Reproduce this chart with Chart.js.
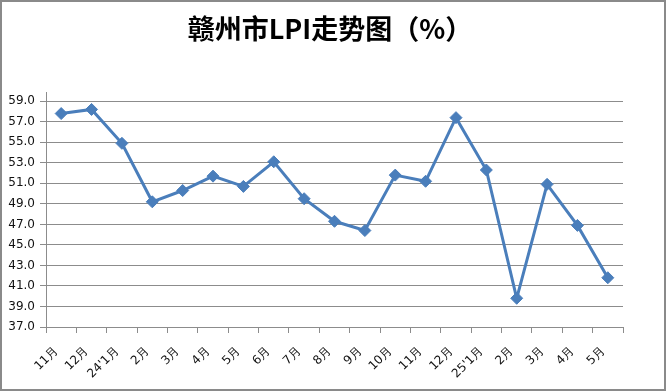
<!DOCTYPE html>
<html>
<head>
<meta charset="utf-8">
<script src="https://cdn.jsdelivr.net/npm/chart.js"></script>
<style>
  html, body { margin: 0; padding: 0; background: #fff; }
  #wrap { width: 666px; height: 391px; position: relative; }
</style>
</head>
<body>
<div id="wrap"><canvas id="c" width="666" height="391"></canvas></div>
<script>
// 赣州市LPI走势图 — monthly values
const months = ['11月', '12月', "24'1月", '2月', '3月', '4月', '5月', '6月', '7月', '8月',
  '9月', '10月', '11月', '12月', "25'1月", '2月', '3月', '4月', '5月'];
const lpi = [57.8, 58.2, 54.9, 49.2, 50.3, 51.7, 50.7, 53.1, 49.5, 47.3,
  46.4, 51.8, 51.2, 57.4, 52.3, 39.8, 50.9, 46.9, 41.8];
const yTicks = [37, 39, 41, 43, 45, 47, 49, 51, 53, 55, 57, 59];
const titleText = '赣州市LPI走势图（%）';

const gridGrey = '#8c8c8c';
const lineBlue = '#4a7ebb';

// grey frame round the whole picture, and the title (a bit right of the plot centre)
const framePlugin = {
  id: 'frame',
  afterDraw(chart) {
    const ctx = chart.ctx;
    ctx.save();
    ctx.strokeStyle = '#8a8a8a';
    ctx.lineWidth = 2;
    ctx.strokeRect(1, 1, chart.width - 2, chart.height - 2);
    ctx.fillStyle = '#000';
    ctx.font = 'bold 27px "Noto Sans CJK SC", sans-serif';
    ctx.textAlign = 'center';
    ctx.textBaseline = 'middle';
    ctx.fillText(titleText, 330, 29);
    ctx.restore();
  }
};

new Chart(document.getElementById('c'), {
  type: 'line',
  data: {
    labels: months,
    datasets: [{
      data: lpi,
      borderColor: lineBlue,
      backgroundColor: lineBlue,
      borderWidth: 3,
      pointStyle: 'rectRot',
      pointRadius: 6,
      pointBorderWidth: 1,
      tension: 0
    }]
  },
  options: {
    responsive: false,
    animation: false,
    layout: { padding: { left: 6, right: 43, top: 92, bottom: 0 } },
    plugins: {
      legend: { display: false },
      tooltip: { enabled: false },
      title: { display: false }
    },
    scales: {
      x: {
        offset: true,
        grid: {
          offset: true,
          drawOnChartArea: false,
          drawTicks: true,
          tickLength: 6,
          color: gridGrey
        },
        border: { color: gridGrey, width: 1 },
        ticks: {
          autoSkip: false,
          minRotation: 45,
          maxRotation: 45,
          padding: 11,
          labelOffset: -5,
          color: '#111',
          font: { family: '"DejaVu Sans", sans-serif', size: 12 }
        },
        afterFit(scale) { scale.height = 64; }
      },
      y: {
        min: 37,
        max: 59.9,
        afterBuildTicks(scale) { scale.ticks = yTicks.map(v => ({ value: v })); },
        grid: { color: gridGrey, tickLength: 6 },
        border: { color: gridGrey, width: 1 },
        ticks: {
          padding: 5,
          color: '#111',
          font: { family: '"DejaVu Sans", sans-serif', size: 12 },
          callback: v => Number(v).toFixed(1)
        },
        afterFit(scale) { scale.width = 40; }
      }
    }
  },
  plugins: [framePlugin]
});
</script>
</body>
</html>
